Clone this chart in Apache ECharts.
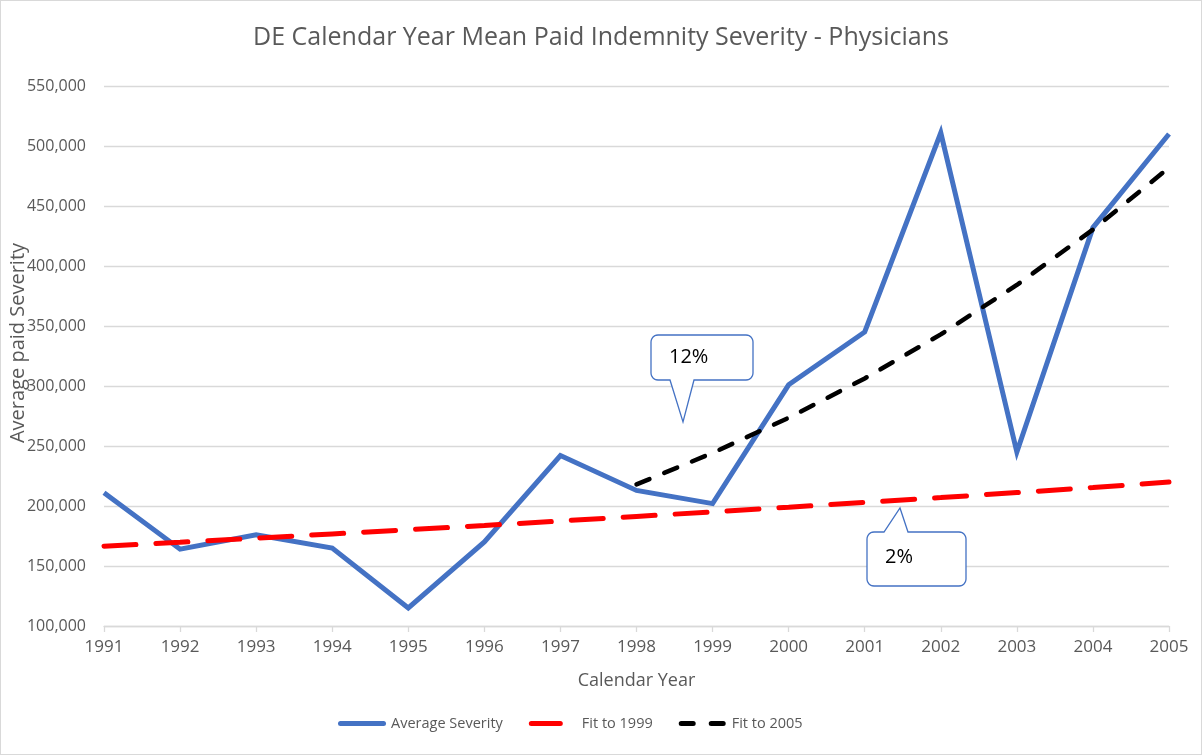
<!DOCTYPE html>
<html>
<head>
<meta charset="utf-8">
<script src="https://cdn.jsdelivr.net/npm/echarts@6/dist/echarts.min.js"></script>
<style>
html,body{margin:0;padding:0;background:#fff;}
#c{width:1200px;height:753px;border:1px solid #d9d9d9;}
</style>
</head>
<body>
<div id="c"></div>
<script>
var years = ['1991','1992','1993','1994','1995','1996','1997','1998','1999','2000','2001','2002','2003','2004','2005'];
var averageSeverity = [211000,164000,176000,165000,115000,170000,242000,213000,202000,301000,345000,511000,245000,432000,510000];
var fitTo1999 = [166500,169800,173200,176700,180200,183800,187500,191300,195100,199000,203000,207000,211200,215400,220000];
var fitTo2005 = [null,null,null,null,null,null,null,218000,244200,273500,306300,343000,384200,430300,482000];
var callouts = [
  {text:'12%', x:650, y:334, w:102, h:45, side:'bottom', b1:669, b2:693, tipX:682, tipY:421},
  {text:'2%', x:866, y:531, w:99, h:54, side:'top', b1:883, b2:907, tipX:899, tipY:507}
];

var textColor = '#595959';
var font = '"Open Sans", "Liberation Sans", sans-serif';

function arcPts(cx, cy, r, a0, a1){
  var pts = [];
  for (var i = 0; i <= 6; i++) {
    var a = a0 + (a1 - a0) * i / 6;
    pts.push([cx + r * Math.cos(a), cy + r * Math.sin(a)]);
  }
  return pts;
}
function bubblePoints(c){
  var r = 7, x = c.x, y = c.y, w = c.w, h = c.h, P = Math.PI;
  var pts = [];
  pts = pts.concat(arcPts(x + r, y + r, r, P, 1.5 * P));
  if (c.side === 'top') pts.push([c.b1, y], [c.tipX, c.tipY], [c.b2, y]);
  pts = pts.concat(arcPts(x + w - r, y + r, r, 1.5 * P, 2 * P));
  pts = pts.concat(arcPts(x + w - r, y + h - r, r, 0, 0.5 * P));
  if (c.side === 'bottom') pts.push([c.b2, y + h], [c.tipX, c.tipY], [c.b1, y + h]);
  pts = pts.concat(arcPts(x + r, y + h - r, r, 0.5 * P, P));
  return pts;
}

var graphics = [];
callouts.forEach(function(c){
  graphics.push({
    type:'polygon', z:100,
    shape:{points: bubblePoints(c)},
    style:{fill:'#fff', stroke:'#4472C4', lineWidth:1.3}
  });
  graphics.push({
    type:'text', z:103,
    x: c.x + 18, y: c.y + (c.side==='bottom' ? 12 : 15),
    style:{text:c.text, fill:'#000', font:'20px ' + font}
  });
});

var iconBlue = 'path://M2.5,0 L45.5,0 A2.5,2.5 0 0 1 45.5,5 L2.5,5 A2.5,2.5 0 0 1 2.5,0 Z';
var iconRed = 'path://M2.5,0 L31.5,0 A2.5,2.5 0 0 1 31.5,5 L2.5,5 A2.5,2.5 0 0 1 2.5,0 Z M48,2.5 L48,2.49 L47.99,2.5 Z';
var iconBlack = 'path://M2.5,0 L14.5,0 A2.5,2.5 0 0 1 14.5,5 L2.5,5 A2.5,2.5 0 0 1 2.5,0 Z M32.5,0 L44.5,0 A2.5,2.5 0 0 1 44.5,5 L32.5,5 A2.5,2.5 0 0 1 32.5,0 Z M48,2.5 L48,2.49 L47.99,2.5 Z';

var chart = echarts.init(document.getElementById('c'));
chart.setOption({
  animation:false,
  backgroundColor:'#fff',
  title:{
    text:'DE Calendar Year Mean Paid Indemnity Severity - Physicians',
    left:'center', top:19,
    textStyle:{color:textColor, fontSize:25, fontWeight:'normal', fontFamily:font}
  },
  grid:{left:103, right:32, top:85, bottom:128, outerBoundsMode:'none', containLabel:false},
  legend:{
    bottom:18, left:332, itemWidth:48, itemHeight:5, itemGap:26,
    itemStyle:{borderWidth:0},
    textStyle:{color:textColor, fontSize:14.5, fontFamily:font},
    data:[
      {name:'Average Severity', icon:iconBlue},
      {name:'Fit to 1999', icon:iconRed},
      {name:'Fit to 2005', icon:iconBlack}
    ]
  },
  xAxis:{
    type:'category', data:years, boundaryGap:false,
    name:'Calendar Year', nameLocation:'middle', nameGap:46, nameMoveOverlap:false,
    nameTextStyle:{color:textColor, fontSize:18, fontFamily:font},
    axisLine:{lineStyle:{color:'#d9d9d9', width:1.3}},
    axisTick:{show:true, length:6, lineStyle:{color:'#d9d9d9', width:1.3}},
    axisLabel:{color:textColor, fontSize:17, fontFamily:font, margin:13}
  },
  yAxis:{
    type:'value', min:100000, max:550000, interval:50000,
    name:'Average paid Severity', nameLocation:'middle', nameGap:76, nameMoveOverlap:false,
    nameTextStyle:{color:textColor, fontSize:20, fontFamily:font, padding:[0,0,0,26]},
    axisLine:{show:false}, axisTick:{show:false},
    splitLine:{lineStyle:{color:'#d9d9d9', width:1.3}},
    axisLabel:{color:textColor, fontSize:16, fontFamily:font, margin:18,
      formatter:function(v){return v.toLocaleString('en-US');}}
  },
  series:[
    {name:'Average Severity', type:'line', data:averageSeverity, symbol:'none', z:3,
      lineStyle:{color:'#4472C4', width:5, join:'miter'}, itemStyle:{color:'#4472C4'}},
    {name:'Fit to 1999', type:'line', data:fitTo1999, symbol:'none', z:4,
      lineStyle:{color:'#FF0000', width:5, type:[32,20], cap:'round'}, itemStyle:{color:'#FF0000'}},
    {name:'Fit to 2005', type:'line', data:fitTo2005, symbol:'none', z:5,
      lineStyle:{color:'#000000', width:4.5, type:[14,16], cap:'round'}, itemStyle:{color:'#000000'}}
  ],
  graphic:graphics
});
</script>
</body>
</html>
